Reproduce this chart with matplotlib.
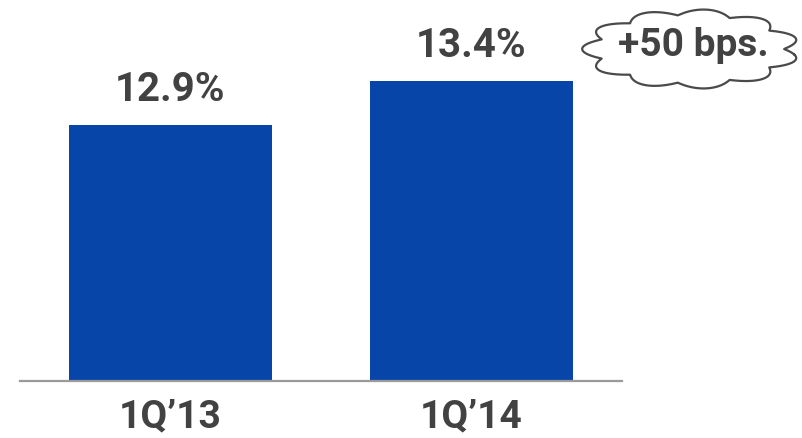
import numpy as np
import matplotlib
matplotlib.use("Agg")
import matplotlib.pyplot as plt

# Tier 1 capital ratio by quarter
categories = ["1Q\u201913", "1Q\u201914"]
values = [12.9, 13.4]
value_labels = ["12.9%", "13.4%"]
change_note = "+50 bps."

BAR_COLOR = "#0845A8"
TEXT_COLOR = "#424242"
FONT = ["Roboto", "DejaVu Sans"]

W, H = 802, 439
fig = plt.figure(figsize=(W / 100, H / 100), dpi=100)

ax = fig.add_axes([20 / W, 57 / H, 602 / W, 382 / H])
x = np.arange(len(categories))
ax.bar(x, values, width=0.673, color=BAR_COLOR, bottom=0, zorder=2)
ax.set_xlim(-0.5, 1.5)
ax.set_ylim(10, 14.326)

for xi, v, lab in zip(x, values, value_labels):
    ax.annotate(lab, (xi, v), xytext=(0, 12), textcoords="offset points",
                ha="center", va="bottom", fontsize=29, fontweight="bold",
                color=TEXT_COLOR, family=FONT)

ax.set_xticks(x)
ax.set_xticklabels(categories, fontsize=28, fontweight="bold",
                   color=TEXT_COLOR, family=FONT)
ax.tick_params(axis="x", length=0, pad=12)
ax.set_yticks([])
for side in ("top", "right", "left"):
    ax.spines[side].set_visible(False)
ax.spines["bottom"].set_color("#9a9a9a")
ax.spines["bottom"].set_linewidth(1.6)
ax.spines["bottom"].set_zorder(3)

# Cloud call-out in pixel space
ov = fig.add_axes([0, 0, 1, 1], facecolor="none")
ov.set_xlim(0, W)
ov.set_ylim(H, 0)
ov.axis("off")
cx, cy, a, b = 691, 50, 93, 34
n = 11
t = np.linspace(0, 2 * np.pi, 1400) + 0.15
r = 1 + 0.17 * np.abs(np.sin(n * t / 2))
ov.plot(cx + a * r * np.cos(t), cy + b * r * np.sin(t),
        color="#4a4a4a", lw=1.6, solid_joinstyle="round")
ov.text(cx + 2, cy - 4, change_note, ha="center", va="center", fontsize=28,
        fontweight="bold", color=TEXT_COLOR, family=FONT)

fig.savefig("out.png", dpi=100)
